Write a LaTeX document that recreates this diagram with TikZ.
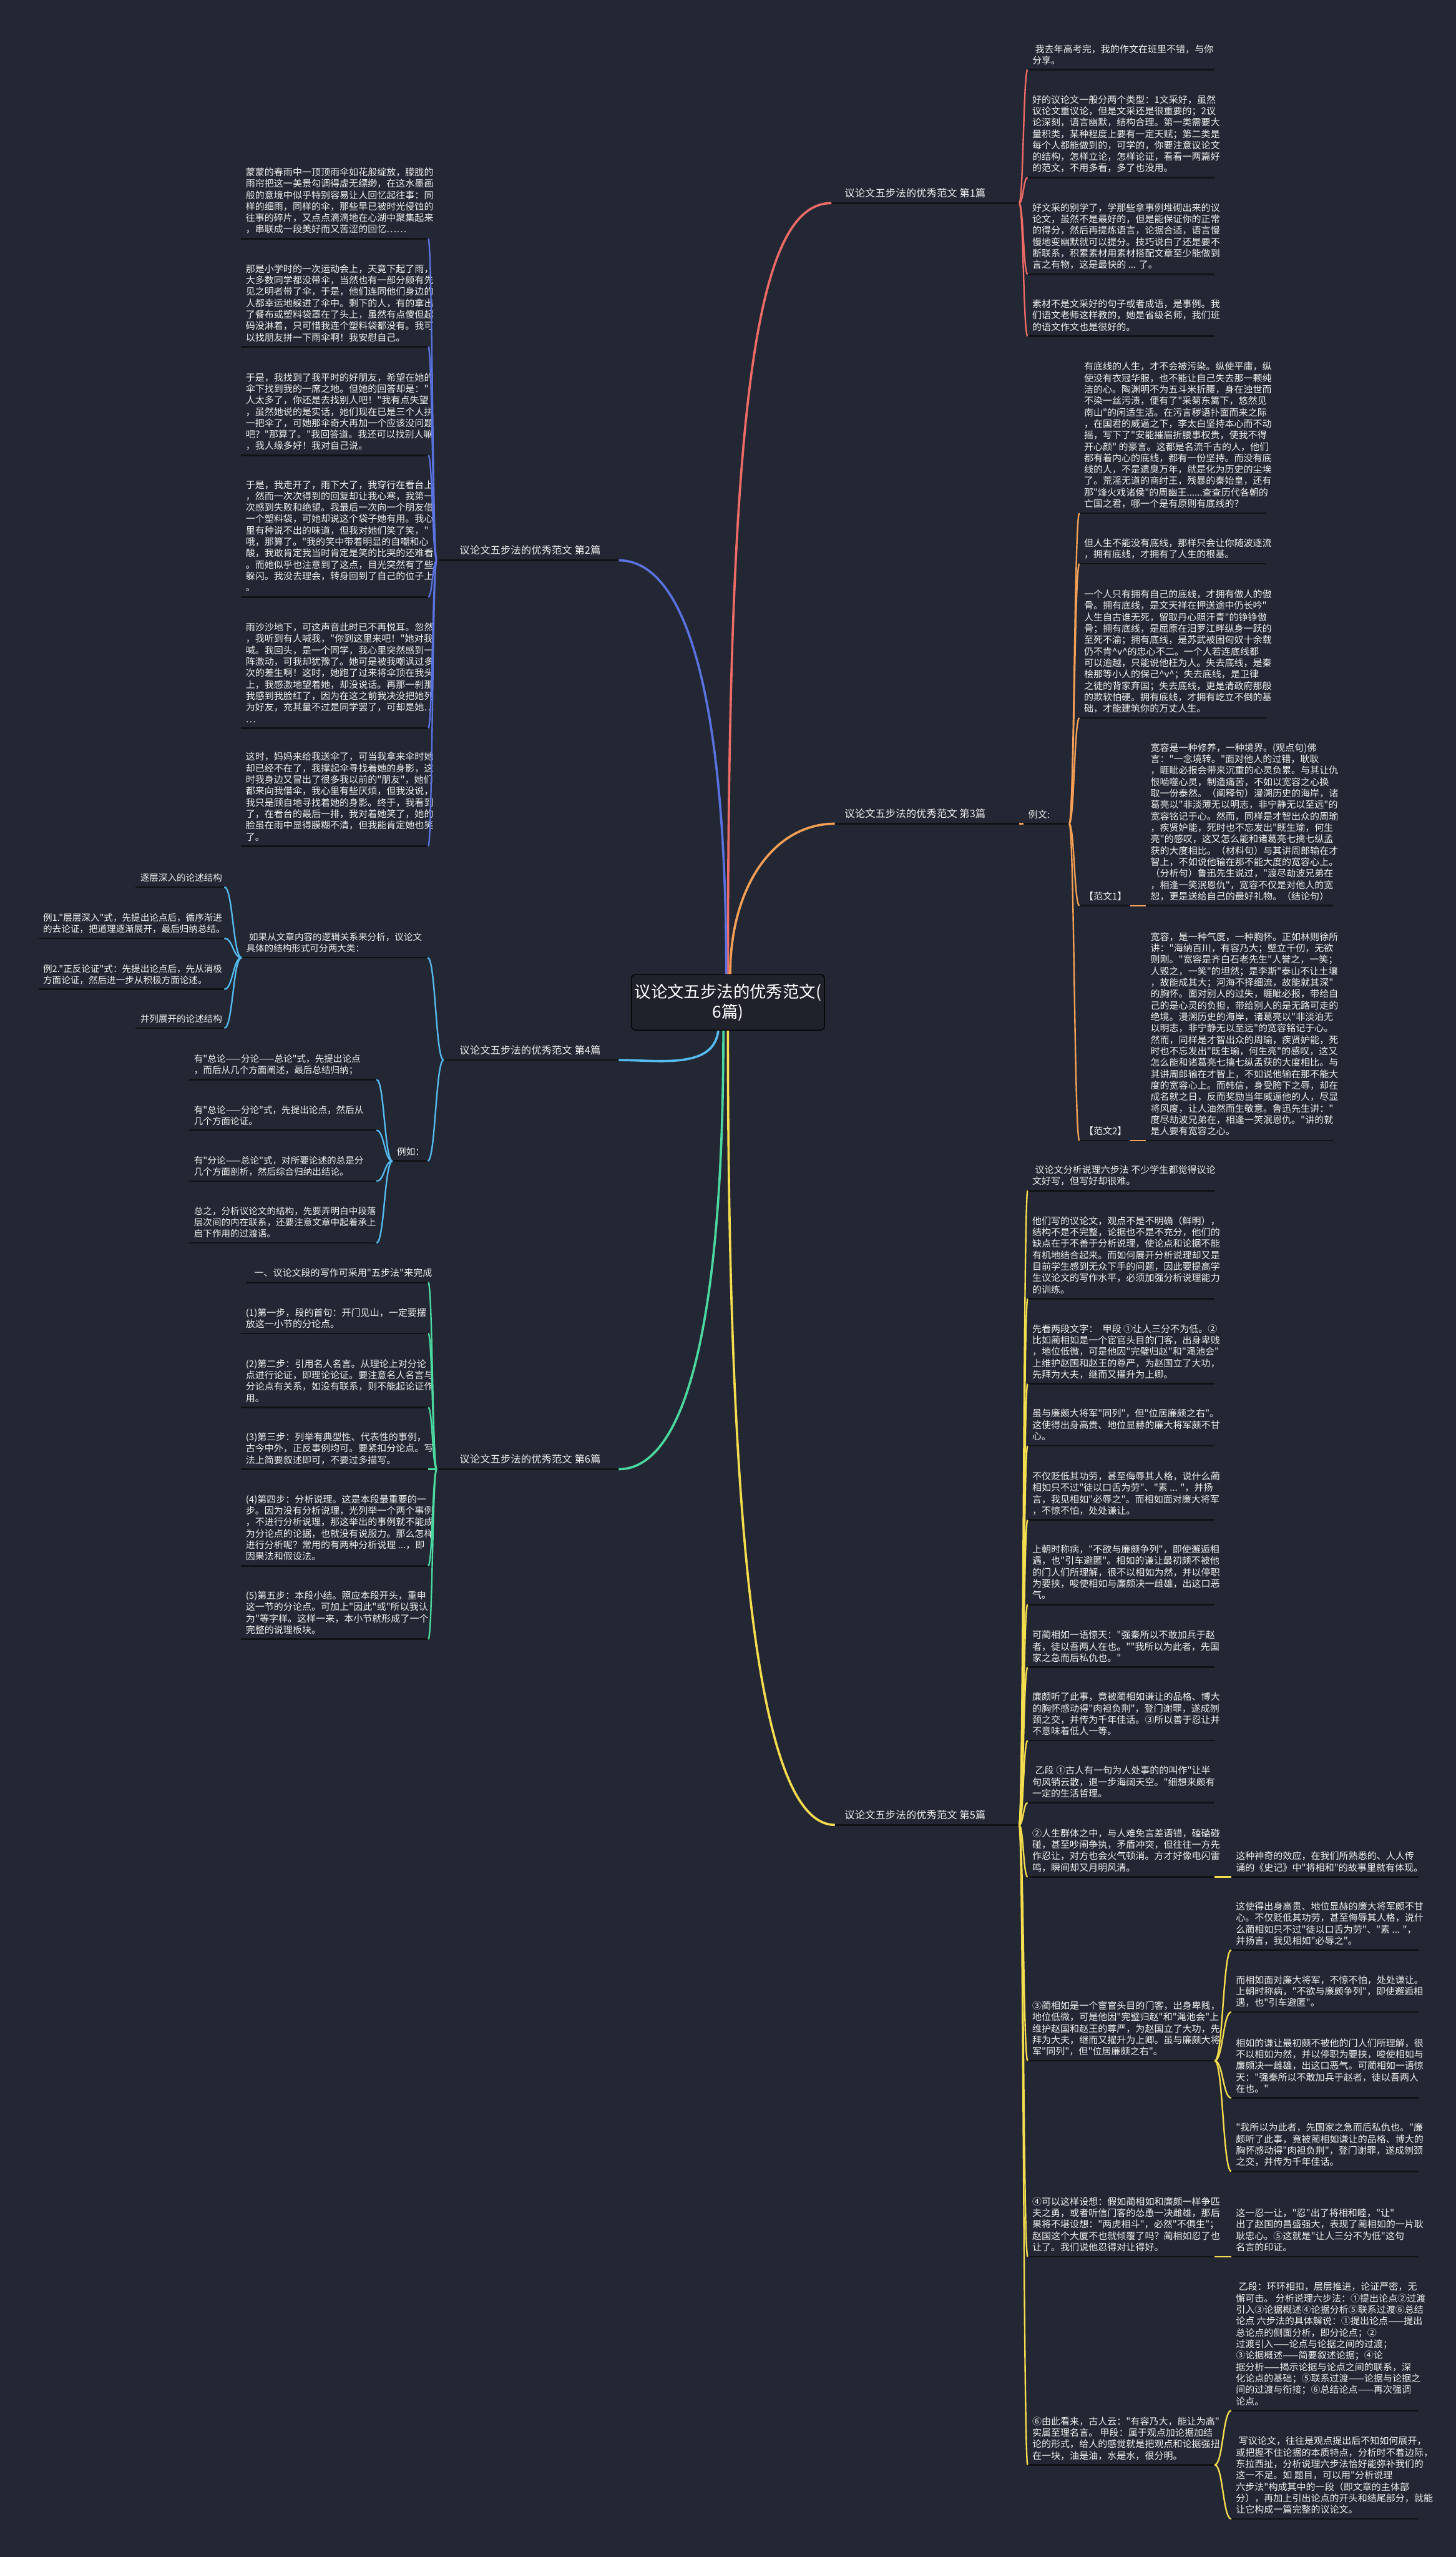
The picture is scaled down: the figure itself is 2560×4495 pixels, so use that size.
\documentclass[tikz,border=0pt]{standalone}
\usepackage{fontspec}
\newfontfamily\cjk{Noto Sans CJK SC}
\usetikzlibrary{calc}
\definecolor{bg}{HTML}{232733}
\definecolor{rootbg}{HTML}{1F222B}
\definecolor{txtc}{HTML}{F0F0F0}
\definecolor{ulc}{HTML}{101216}
\definecolor{cRed}{HTML}{EE6B66}
\definecolor{cBlue}{HTML}{5A72E0}
\definecolor{cOrange}{HTML}{F5A056}
\definecolor{cLblue}{HTML}{55BBF0}
\definecolor{cGreen}{HTML}{4CD9A0}
\definecolor{cYellow}{HTML}{F4DD4E}
\tikzset{
  txt/.style={font=\cjk\fontsize{16.5}{20.1}\selectfont, text=txtc, align=left, inner sep=0pt, anchor=south west},
  lbl/.style={font=\cjk\fontsize{18}{22}\selectfont, text=txtc, align=left, inner sep=0pt, anchor=south west},
  uline/.style={draw=ulc, line width=3pt},
  conn/.style={line width=2.6pt},
  rootconn/.style={line width=4pt},
}
\newcommand\Nd[5]{%
  \node[txt] (#1) at ({#2+8},{#4-4}) {#5\strut};%
  \coordinate (#1L) at (#2,#4);%
  \coordinate (#1R) at (#3,#4);%
  \draw[uline] (#1L) -- (#1R);%
}
\newcommand\Lb[6]{%
  \node[lbl] (#1) at ({#5},{#4-4}) {#6\strut};%
  \coordinate (#1L) at (#2,#4);%
  \coordinate (#1R) at (#3,#4);%
  \draw[uline] (#1L) -- (#1R);%
}
\newcommand\Lk[3]{%
  \path ($(#2)!0.5!(#3)$) coordinate (lkm);%
  \draw[conn,#1] (#2) .. controls (#2 -| lkm) and (#3 -| lkm) .. (#3);%
}
\begin{document}
\begin{tikzpicture}[x=1pt,y=-1pt]
\fill[bg] (0,0) rectangle (2560,4495);
\useasboundingbox (0,0) rectangle (2560,4495);

% ---------- root ----------
\node[draw=black, line width=1.5pt, fill=rootbg, rounded corners=8pt, minimum width=340pt, minimum height=98pt, font=\cjk\fontsize{29}{35}\selectfont, text=white, align=center] (root) at (1280,1762) {议论文五步法的优秀范文(\\6篇)};

% ---------- labels ----------
\Lb{LA}{1462}{1792}{357}{1485}{议论文五步法的优秀范文 第1篇}
\Lb{LC}{1468}{1792}{1448}{1485}{议论文五步法的优秀范文 第3篇}
\Lb{LE}{1468}{1792}{3208}{1485}{议论文五步法的优秀范文 第5篇}
\Lb{LB}{768}{1088}{985}{808}{议论文五步法的优秀范文 第2篇}
\Lb{LD}{780}{1088}{1863.5}{808}{议论文五步法的优秀范文 第4篇}
\Lb{LF}{768}{1088}{2582.7}{808}{议论文五步法的优秀范文 第6篇}

% ---------- branch 1 ----------
\Nd{aa}{1807}{2136}{122.6}{\hspace{5pt}我去年高考完，我的作文在班里不错，与你\\分享。}
\Nd{ab}{1807}{2136}{312}{好的议论文一般分两个类型：1文采好，虽然\\议论文重议论，但是文采还是很重要的；2议\\论深刻，语言幽默，结构合理。第一类需要大\\量积类，某种程度上要有一定天赋；第二类是\\每个人都能做到的，可学的，你要注意议论文\\的结构，怎样立论，怎样论证，看看一两篇好\\的范文，不用多看，多了也没用。}
\Nd{ac}{1807}{2136}{482}{好文采的别学了，学那些拿事例堆砌出来的议\\论文，虽然不是最好的，但是能保证你的正常\\的得分，然后再提炼语言，论据合适，语言慢\\慢地变幽默就可以提分。技巧说白了还是要不\\断联系，积累素材用素材搭配文章至少能做到\\言之有物，这是最快的 ... 了。}
\Nd{ad}{1807}{2136}{591}{素材不是文采好的句子或者成语，是事例。我\\们语文老师这样教的，她是省级名师，我们班\\的语文作文也是很好的。}

% ---------- branch 2 ----------
\Nd{ba}{424}{753}{419.5}{蒙蒙的春雨中一顶顶雨伞如花般绽放，朦胧的\\雨帘把这一美景勾调得虚无缥缈，在这水墨画\\般的意境中似乎特别容易让人回忆起往事：同\\样的细雨，同样的伞，那些早已被时光侵蚀的\\往事的碎片，又点点滴滴地在心湖中聚集起来\\，串联成一段美好而又苦涩的回忆……}
\Nd{bb}{424}{753}{609.5}{那是小学时的一次运动会上，天竟下起了雨，\\大多数同学都没带伞，当然也有一部分颇有先\\见之明者带了伞，于是，他们连同他们身边的\\人都幸运地躲进了伞中。剩下的人，有的拿出\\了餐布或塑料袋罩在了头上，虽然有点傻但起\\码没淋着，只可惜我连个塑料袋都没有。我可\\以找朋友拼一下雨伞啊！我安慰自己。}
\Nd{bc}{424}{753}{800.3}{于是，我找到了我平时的好朋友，希望在她的\\伞下找到我的一席之地。但她的回答却是："\\人太多了，你还是去找别人吧！"我有点失望\\，虽然她说的是实话，她们现在已是三个人拼\\一把伞了，可她那伞奇大再加一个应该没问题\\吧？"那算了。"我回答道。我还可以找别人嘛\\，我人缘多好！我对自己说。}
\Nd{bd}{424}{753}{1049.3}{于是，我走开了，雨下大了，我穿行在看台上\\，然而一次次得到的回复却让我心寒，我第一\\次感到失败和绝望。我最后一次向一个朋友借\\一个塑料袋，可她却说这个袋子她有用。我心\\里有种说不出的味道，但我对她们笑了笑，"\\哦，那算了。"我的笑中带着明显的自嘲和心\\酸，我敢肯定我当时肯定是笑的比哭的还难看\\。而她似乎也注意到了这点，目光突然有了些\\躲闪。我没去理会，转身回到了自己的位子上\\。}
\Nd{be}{424}{753}{1280}{雨沙沙地下，可这声音此时已不再悦耳。忽然\\，我听到有人喊我，"你到这里来吧！"她对我\\喊。我回头，是一个同学，我心里突然感到一\\阵激动，可我却犹豫了。她可是被我嘲讽过多\\次的差生啊！这时，她跑了过来将伞顶在我头\\上，我感激地望着她，却没说话。再那一刹那\\我感到我脸红了，因为在这之前我决没把她列\\为好友，充其量不过是同学罢了，可却是她…\\…}
\Nd{bf}{424}{753}{1487.5}{这时，妈妈来给我送伞了，可当我拿来伞时她\\却已经不在了，我撑起伞寻找着她的身影，这\\时我身边又冒出了很多我以前的"朋友"，她们\\都来向我借伞，我心里有些厌烦，但我没说，\\我只是顾自地寻找着她的身影。终于，我看到\\了，在看台的最后一排，我对着她笑了，她的\\脸虽在雨中显得膜糊不清，但我能肯定她也笑\\了。}

% ---------- branch 3 ----------
\Nd{cx}{1800}{1880}{1448}{例文:}
\Nd{ca}{1898}{2227}{902}{有底线的人生，才不会被污染。纵使平庸，纵\\使没有衣冠华服，也不能让自己失去那一颗纯\\洁的心。陶渊明不为五斗米折腰，身在浊世而\\不染一丝污渍，便有了"采菊东篱下，悠然见\\南山"的闲适生活。在污言秽语扑面而来之际\\，在国君的威逼之下，李太白坚持本心而不动\\摇，写下了"安能摧眉折腰事权贵，使我不得\\开心颜" 的豪言。这都是名流千古的人，他们\\都有着内心的底线，都有一份坚持。而没有底\\线的人，不是遗臭万年，就是化为历史的尘埃\\了。荒淫无道的商纣王，残暴的秦始皇，还有\\那"烽火戏诸侯"的周幽王......查查历代各朝的\\亡国之君，哪一个是有原则有底线的？}
\Nd{cb}{1898}{2227}{991}{但人生不能没有底线，那样只会让你随波逐流\\，拥有底线，才拥有了人生的根基。}
\Nd{cc}{1898}{2227}{1262}{一个人只有拥有自己的底线，才拥有做人的傲\\骨。拥有底线，是文天祥在押送途中仍长吟"\\人生自古谁无死，留取丹心照汗青"的铮铮傲\\骨；拥有底线，是屈原在汨罗江畔纵身一跃的\\至死不渝；拥有底线，是苏武被困匈奴十余载\\仍不肯\textasciicircum{}v\textasciicircum{}的忠心不二。一个人若连底线都\\可以逾越，只能说他枉为人。失去底线，是秦\\桧那等小人的保己\textasciicircum{}v\textasciicircum{}；失去底线，是卫律\\之徒的背家弃国；失去底线，更是清政府那般\\的欺软怕硬。拥有底线，才拥有屹立不倒的基\\础，才能建筑你的万丈人生。}
\Nd{cf1}{1898}{1987}{1592}{【范文1】}
\Nd{cf1t}{2015}{2344}{1592}{宽容是一种修养，一种境界。(观点句)佛\\言："一念境转。"面对他人的过错，耿耿\\，睚眦必报会带来沉重的心灵负累。与其让仇\\恨啮噬心灵，制造痛苦，不如以宽容之心换\\取一份泰然。（阐释句）漫溯历史的海岸，诸\\葛亮以"非淡薄无以明志，非宁静无以至远"的\\宽容铭记于心。然而，同样是才智出众的周瑜\\，疾贤妒能，死时也不忘发出"既生瑜，何生\\亮"的感叹，这又怎么能和诸葛亮七擒七纵孟\\获的大度相比。（材料句）与其讲周郎输在才\\智上，不如说他输在那不能大度的宽容心上。\\（分析句）鲁迅先生说过，"渡尽劫波兄弟在\\，相逢一笑泯恩仇"，宽容不仅是对他人的宽\\恕，更是送给自己的最好礼物。（结论句）}
\Nd{cf2}{1898}{1987}{2005}{【范文2】}
\Nd{cf2t}{2015}{2344}{2005}{宽容，是一种气度，一种胸怀。正如林则徐所\\讲："海纳百川，有容乃大；壁立千仞，无欲\\则刚。"宽容是齐白石老先生"人誉之，一笑；\\人毁之，一笑"的坦然；是李斯"泰山不让土壤\\，故能成其大；河海不择细流，故能就其深"\\的胸怀。面对别人的过失，睚眦必报，带给自\\己的是心灵的负担，带给别人的是无路可走的\\绝境。漫溯历史的海岸，诸葛亮以"非淡泊无\\以明志，非宁静无以至远"的宽容铭记于心。\\然而，同样是才智出众的周瑜，疾贤妒能，死\\时也不忘发出"既生瑜，何生亮"的感叹，这又\\怎么能和诸葛亮七擒七纵孟获的大度相比。与\\其讲周郎输在才智上，不如说他输在那不能大\\度的宽容心上。而韩信，身受胯下之辱，却在\\成名就之日，反而奖励当年威逼他的人，尽显\\将风度，让人油然而生敬意。鲁迅先生讲："\\度尽劫波兄弟在，相逢一笑泯恩仇。"讲的就\\是人要有宽容之心。}

% ---------- branch 4 ----------
\begin{scope}[txt/.append style={font=\cjk\fontsize{16}{20.1}\selectfont}]
\Nd{da}{424.8}{752}{1683.5}{\hspace{5pt}如果从文章内容的逻辑关系来分析，议论文\\具体的结构形式可分两大类：}
\Nd{daa}{238.5}{394.5}{1559.4}{逐层深入的论述结构}
\Nd{dab}{67.7}{394.5}{1649.4}{例1."层层深入"式，先提出论点后，循序渐进\\的去论证，把道理逐渐展开，最后归纳总结。}
\Nd{dac}{67.7}{394.5}{1739}{例2."正反论证"式：先提出论点后，先从消极\\方面论证，然后进一步从积极方面论述。}
\Nd{dad}{238.5}{394.5}{1807.3}{并列展开的论述结构}
\Nd{db}{690}{752}{2041}{例如：}
\Nd{dba}{333}{662}{1897.7}{有"总论——分论——总论"式，先提出论点\\，而后从几个方面阐述，最后总结归纳；}
\Nd{dbb}{333}{662}{1987}{有"总论——分论"式，先提出论点，然后从\\几个方面论证。}
\Nd{dbc}{333}{662}{2076.4}{有"分论——总论"式，对所要论述的总是分\\几个方面剖析，然后综合归纳出结论。}
\Nd{dbd}{333}{662}{2185}{总之，分析议论文的结构，先要弄明白中段落\\层次间的内在联系，还要注意文章中起着承上\\启下作用的过渡语。}
\end{scope}

% ---------- branch 6 ----------
\Nd{fa}{433}{753}{2254.3}{\hspace{6pt}一、议论文段的写作可采用"五步法"来完成}
\Nd{fb}{424}{753}{2344}{(1)第一步，段的首句：开门见山，一定要摆\\放这一小节的分论点。}
\Nd{fc}{424}{753}{2474}{(2)第二步：引用名人名言。从理论上对分论\\点进行论证，即理论论证。要注意名人名言与\\分论点有关系，如没有联系，则不能起论证作\\用。}
\Nd{fd}{424}{753}{2582.7}{(3)第三步：列举有典型性、代表性的事例，\\古今中外，正反事例均可。要紧扣分论点。写\\法上简要叙述即可，不要过多描写。}
\Nd{fe}{424}{753}{2752.5}{(4)第四步：分析说理。这是本段最重要的一\\步。因为没有分析说理，光列举一个两个事例\\，不进行分析说理，那这举出的事例就不能成\\为分论点的论据，也就没有说服力。那么怎样\\进行分析呢？常用的有两种分析说理 ...，即\\因果法和假设法。}
\Nd{ff}{424}{753}{2881.6}{(5)第五步：本段小结。照应本段开头，重申\\这一节的分论点。可加上"因此"或"所以我认\\为"等字样。这样一来，本小节就形成了一个\\完整的说理板块。}

% ---------- branch 5 ----------
\Nd{ea}{1807}{2136}{2093}{\hspace{5pt}议论文分析说理六步法 不少学生都觉得议论\\文好写，但写好却很难。}
\Nd{eb}{1807}{2136}{2283}{他们写的议论文，观点不是不明确（鲜明），\\结构不是不完整，论据也不是不充分，他们的\\缺点在于不善于分析说理，使论点和论据不能\\有机地结合起来。而如何展开分析说理却又是\\目前学生感到无众下手的问题，因此要提高学\\生议论文的写作水平，必须加强分析说理能力\\的训练。}
\Nd{ec}{1807}{2136}{2432.6}{先看两段文字：\hspace{8pt}甲段 ①让人三分不为低。②\\比如蔺相如是一个宦官头目的门客，出身卑贱\\，地位低微，可是他因"完璧归赵"和"渑池会"\\上维护赵国和赵王的尊严，为赵国立了大功，\\先拜为大夫，继而又擢升为上卿。}
\Nd{ed}{1807}{2136}{2541.5}{虽与廉颇大将军"同列"，但"位居廉颇之右"。\\这使得出身高贵、地位显赫的廉大将军颇不甘\\心。}
\Nd{ee}{1807}{2136}{2672}{不仅贬低其功劳，甚至侮辱其人格，说什么蔺\\相如只不过"徒以口舌为劳"、"素 ... "，并扬\\言，我见相如"必辱之"。而相如面对廉大将军\\，不惊不怕，处处谦让。}
\Nd{ef}{1807}{2136}{2820.5}{上朝时称病，"不欲与廉颇争列"，即使邂逅相\\遇，也"引车避匿"。相如的谦让最初颇不被他\\的门人们所理解，很不以相如为然，并以停职\\为要挟，唆使相如与廉颇决一雌雄，出这口恶\\气。}
\Nd{eg}{1807}{2136}{2931}{可蔺相如一语惊天："强秦所以不敢加兵于赵\\者，徒以吾两人在也。""我所以为此者，先国\\家之急而后私仇也。"}
\Nd{eh}{1807}{2136}{3059.6}{廉颇听了此事，竟被蔺相如谦让的品格、博大\\的胸怀感动得"肉袒负荆"，登门谢罪，遂成刎\\颈之交，并传为千年佳话。③所以善于忍让并\\不意味着低人一等。}
\Nd{ei}{1807}{2136}{3169}{\hspace{5pt}乙段 ①古人有一句为人处事的的叫作"让半\\句风销云散，退一步海阔天空。"细想来颇有\\一定的生活哲理。}
\Nd{ej}{1807}{2136}{3299.4}{②人生群体之中，与人难免言差语错，磕磕碰\\碰，甚至吵闹争执，矛盾冲突，但往往一方先\\作忍让，对方也会火气顿消。方才好像电闪雷\\鸣，瞬间却又月明风清。}
\Nd{ek}{1807}{2136}{3622.6}{③蔺相如是一个宦官头目的门客，出身卑贱，\\地位低微，可是他因"完璧归赵"和"渑池会"上\\维护赵国和赵王的尊严，为赵国立了大功，先\\拜为大夫，继而又擢升为上卿。虽与廉颇大将\\军"同列"，但"位居廉颇之右"。}
\Nd{el}{1807}{2136}{3967}{④可以这样设想：假如蔺相如和廉颇一样争匹\\夫之勇，或者听信门客的怂恿一决雌雄，那后\\果将不堪设想："两虎相斗"，必然"不俱生"；\\赵国这个大厦不也就倾覆了吗？蔺相如忍了也\\让了。我们说他忍得对让得好。}
\Nd{em}{1807}{2136}{4333}{⑥由此看来，古人云："有容乃大，能让为高"\\实属至理名言。 甲段：属于观点加论据加结\\论的形式，给人的感觉就是把观点和论据强扭\\在一块，油是油，水是水，很分明。}
\Nd{eja}{2165}{2494}{3299.4}{这种神奇的效应，在我们所熟悉的、人人传\\诵的《史记》中"将相和"的故事里就有体现。}
\Nd{eka}{2165}{2494}{3428}{这使得出身高贵、地位显赫的廉大将军颇不甘\\心。不仅贬低其功劳，甚至侮辱其人格，说什\\么蔺相如只不过"徒以口舌为劳"、"素 ... "，\\并扬言，我见相如"必辱之"。}
\Nd{ekb}{2165}{2494}{3537}{而相如面对廉大将军，不惊不怕，处处谦让。\\上朝时称病，"不欲与廉颇争列"，即使邂逅相\\遇，也"引车避匿"。}
\Nd{ekc}{2165}{2494}{3688}{相如的谦让最初颇不被他的门人们所理解，很\\不以相如为然，并以停职为要挟，唆使相如与\\廉颇决一雌雄，出这口恶气。可蔺相如一语惊\\天："强秦所以不敢加兵于赵者，徒以吾两人\\在也。"}
\Nd{ekd}{2165}{2494}{3817}{"我所以为此者，先国家之急而后私仇也。"廉\\颇听了此事，竟被蔺相如谦让的品格、博大的\\胸怀感动得"肉袒负荆"，登门谢罪，遂成刎颈\\之交，并传为千年佳话。}
\Nd{ela}{2165}{2494}{3967}{这一忍一让，"忍"出了将相和睦，"让"\\出了赵国的昌盛强大，表现了蔺相如的一片耿\\耿忠心。⑤这就是"让人三分不为低"这句\\名言的印证。}
\Nd{ema}{2165}{2494}{4237.5}{\hspace{5pt}乙段：环环相扣，层层推进，论证严密，无\\懈可击。 分析说理六步法：①提出论点②过渡\\引入③论据概述④论据分析⑤联系过渡⑥总结\\论点 六步法的具体解说：①提出论点——提出\\总论点的侧面分析，即分论点；②\\过渡引入——论点与论据之间的过渡；\\③论据概述——简要叙述论据；④论\\据分析——揭示论据与论点之间的联系，深\\化论点的基础；⑤联系过渡——论据与论据之\\间的过渡与衔接；⑥总结论点——再次强调\\论点。}
\Nd{emb}{2165}{2494}{4428}{\hspace{5pt}写议论文，往往是观点提出后不知如何展开，\\或把握不住论据的本质特点，分析时不着边际，\\东拉西扯，分析说理六步法恰好能弥补我们的\\这一不足。如 题目，可以用"分析说理\\六步法"构成其中的一段（即文章的主体部\\分），再加上引出论点的开头和结尾部分，就能\\让它构成一篇完整的议论文。}

% ---------- connectors: root to labels ----------
\draw[rootconn, cRed] (root.north) .. controls (1280,700) and (1330,357) .. (LAL);
\draw[rootconn, cOrange] ([xshift=4pt]root.north) .. controls (1284,1560) and (1360,1448) .. (LCL);
\draw[rootconn, cBlue] ([xshift=-3pt]root.north) .. controls (1277,1200) and (1200,985) .. (LBR);
\draw[rootconn, cLblue] ([xshift=-17pt]root.south) .. controls (1255,1880) and (1160,1863.5) .. (LDR);
\draw[rootconn, cGreen] ([xshift=-8pt]root.south) .. controls (1272,2350) and (1200,2582.7) .. (LFR);
\draw[rootconn, cYellow] (root.south) .. controls (1280,2860) and (1355,3208) .. (LEL);

% ---------- branch connectors ----------
\foreach \c in {aa,ab,ac,ad} {\Lk{cRed}{LAR}{\c L}}
\foreach \c in {ba,bb,bc,bd,be,bf} {\Lk{cBlue}{LBL}{\c R}}
\Lk{cOrange}{LCR}{cxL}
\foreach \c in {ca,cb,cc,cf1,cf2} {\Lk{cOrange}{cxR}{\c L}}
\Lk{cOrange}{cf1R}{cf1tL}
\Lk{cOrange}{cf2R}{cf2tL}
\foreach \c in {da,db} {\Lk{cLblue}{LDL}{\c R}}
\foreach \c in {daa,dab,dac,dad} {\Lk{cLblue}{daL}{\c R}}
\foreach \c in {dba,dbb,dbc,dbd} {\Lk{cLblue}{dbL}{\c R}}
\foreach \c in {fa,fb,fc,fd,fe,ff} {\Lk{cGreen}{LFL}{\c R}}
\foreach \c in {ea,eb,ec,ed,ee,ef,eg,eh,ei,ej,ek,el,em} {\Lk{cYellow}{LER}{\c L}}
\Lk{cYellow}{ejR}{ejaL}
\foreach \c in {eka,ekb,ekc,ekd} {\Lk{cYellow}{ekR}{\c L}}
\Lk{cYellow}{elR}{elaL}
\foreach \c in {ema,emb} {\Lk{cYellow}{emR}{\c L}}
\end{tikzpicture}
\end{document}
